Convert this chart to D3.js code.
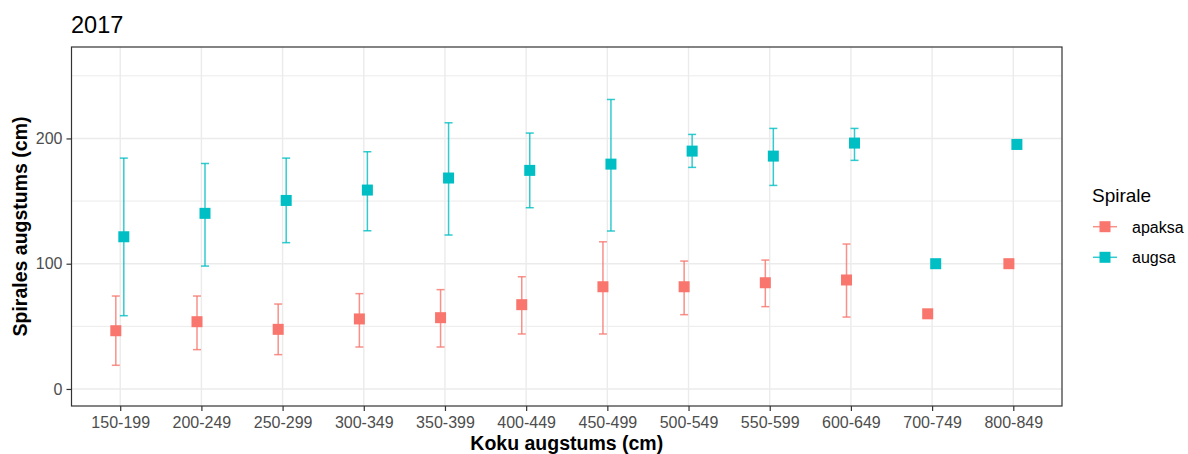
<!DOCTYPE html>
<html>
<head>
<meta charset="utf-8">
<script src="https://cdn.jsdelivr.net/npm/d3@7"></script>
<style>
  html, body { margin: 0; padding: 0; background: #fff; }
  svg { display: block; font-family: "Liberation Sans", Arial, sans-serif; }
</style>
</head>
<body>
<svg id="chart" width="1188" height="454"></svg>
<script>
const categories = ['150-199','200-249','250-299','300-349','350-399','400-449','450-499','500-549','550-599','600-649','700-749','800-849'];
const seriesNames = ['apaksa', 'augsa'];
const apaksaMean = [46.5, 53.7, 47.6, 55.9, 56.9, 67.3, 81.6, 81.6, 84.8, 87.0, 60, 100];
const apaksaLow  = [18.9, 31.4, 27.4, 33.5, 33.5, 43.9, 43.9, 59.3, 65.7, 57.4, null, null];
const apaksaHigh = [74.2, 74.2, 67.8, 76.1, 79.3, 89.6, 117.5, 102.1, 102.9, 115.7, null, null];
const augsaMean  = [121.5, 140.2, 150.5, 158.8, 168.4, 174.5, 179.5, 189.9, 185.9, 196.3, 100, 195.2];
const augsaLow   = [58.5, 98.1, 116.8, 126.3, 122.9, 144.7, 126.1, 176.9, 162.5, 182.5, null, null];
const augsaHigh  = [184.3, 180.0, 184.3, 189.4, 212.5, 204.3, 231.1, 203.2, 208.0, 208.0, null, null];
const yMajorTicks = [0, 100, 200];
const yMinorTicks = [50, 150, 250];
const titleText = '2017';
const xTitle = 'Koku augstums (cm)';
const yTitle = 'Spirales augstums (cm)';
const legendTitle = 'Spirale';

const colors = { apaksa: '#F8766D', augsa: '#00BFC4' };
const dodge = { apaksa: -4.4, augsa: 3.6 };

const panel = { left: 71.5, right: 1062, top: 47, bottom: 406 };
const svg = d3.select('#chart');

const x = d3.scalePoint().domain(categories).range([panel.left, panel.right]).padding(0.6);
const y = d3.scaleLinear().domain([-13.6, 273]).range([panel.bottom, panel.top]);

const series = [
  { name: 'apaksa', mean: apaksaMean, low: apaksaLow, high: apaksaHigh },
  { name: 'augsa', mean: augsaMean, low: augsaLow, high: augsaHigh }
];

// Gridlines
const grid = svg.append('g');
grid.selectAll('line.ymin').data(yMinorTicks).join('line')
  .attr('x1', panel.left).attr('x2', panel.right)
  .attr('y1', d => y(d)).attr('y2', d => y(d))
  .attr('stroke', '#EBEBEB').attr('stroke-width', 1);
grid.selectAll('line.ymaj').data(yMajorTicks).join('line')
  .attr('x1', panel.left).attr('x2', panel.right)
  .attr('y1', d => y(d)).attr('y2', d => y(d))
  .attr('stroke', '#EBEBEB').attr('stroke-width', 1.4);
grid.selectAll('line.xmaj').data(categories).join('line')
  .attr('x1', d => x(d)).attr('x2', d => x(d))
  .attr('y1', panel.top).attr('y2', panel.bottom)
  .attr('stroke', '#EBEBEB').attr('stroke-width', 1.4);

// Error bars and points
series.forEach(s => {
  const g = svg.append('g');
  const rows = categories.map((c, i) => ({ c, m: s.mean[i], lo: s.low[i], hi: s.high[i] }));
  const eb = rows.filter(r => r.lo != null);
  const cx = r => x(r.c) + dodge[s.name];
  g.selectAll('line.v').data(eb).join('line')
    .attr('x1', cx).attr('x2', cx)
    .attr('y1', r => y(r.lo)).attr('y2', r => y(r.hi))
    .attr('stroke', colors[s.name]).attr('stroke-width', 1.5).attr('opacity', 0.8);
  [ 'lo', 'hi' ].forEach(k => {
    g.selectAll('line.c' + k).data(eb).join('line')
      .attr('x1', r => cx(r) - 4).attr('x2', r => cx(r) + 4)
      .attr('y1', r => y(r[k])).attr('y2', r => y(r[k]))
      .attr('stroke', colors[s.name]).attr('stroke-width', 1.5).attr('opacity', 0.8);
  });
  g.selectAll('rect').data(rows).join('rect')
    .attr('x', r => cx(r) - 5.5).attr('y', r => y(r.m) - 5.5)
    .attr('width', 11).attr('height', 11)
    .attr('fill', colors[s.name]);
});

// Panel border
svg.append('rect')
  .attr('x', panel.left).attr('y', panel.top)
  .attr('width', panel.right - panel.left).attr('height', panel.bottom - panel.top)
  .attr('fill', 'none').attr('stroke', '#333333').attr('stroke-width', 1.2);

// Y axis
const yAxis = d3.axisLeft(y).tickValues(yMajorTicks).tickSize(5).tickPadding(4);
const yg = svg.append('g').attr('transform', `translate(${panel.left},0)`).call(yAxis);
yg.select('.domain').remove();
yg.selectAll('line').attr('stroke', '#333333').attr('stroke-width', 1.2);
yg.selectAll('text').attr('fill', '#4D4D4D').style('font-size', '16px')
  .style('font-family', '"Liberation Sans", Arial, sans-serif');

// X axis
const xAxis = d3.axisBottom(x).tickSize(5).tickPadding(6);
const xg = svg.append('g').attr('transform', `translate(0,${panel.bottom})`).call(xAxis);
xg.select('.domain').remove();
xg.selectAll('line').attr('stroke', '#333333').attr('stroke-width', 1.2);
xg.selectAll('text').attr('fill', '#4D4D4D').style('font-size', '16px')
  .style('font-family', '"Liberation Sans", Arial, sans-serif');

// Titles
svg.append('text').attr('x', panel.left - 0.5).attr('y', 33.3)
  .style('font-size', '23.5px').attr('fill', '#000').text(titleText);
svg.append('text').attr('x', (panel.left + panel.right) / 2).attr('y', 450)
  .attr('text-anchor', 'middle').style('font-size', '19.5px').style('font-weight', 'bold')
  .attr('fill', '#000').text(xTitle);
svg.append('text')
  .attr('transform', `translate(27,${(panel.top + panel.bottom) / 2}) rotate(-90)`)
  .attr('text-anchor', 'middle').style('font-size', '19.5px').style('font-weight', 'bold')
  .attr('fill', '#000').text(yTitle);

// Legend
const lg = svg.append('g');
lg.append('text').attr('x', 1092).attr('y', 201.5).style('font-size', '19px')
  .attr('fill', '#000').text(legendTitle);
const keyY = { apaksa: 226.7, augsa: 257.3 };
seriesNames.forEach(n => {
  lg.append('line').attr('x1', 1093).attr('x2', 1117)
    .attr('y1', keyY[n]).attr('y2', keyY[n])
    .attr('stroke', colors[n]).attr('stroke-width', 1.5).attr('opacity', 0.8);
  lg.append('rect').attr('x', 1105 - 5.5).attr('y', keyY[n] - 5.5)
    .attr('width', 11).attr('height', 11).attr('fill', colors[n]);
  lg.append('text').attr('x', 1132).attr('y', keyY[n] + 6).style('font-size', '16px')
    .attr('fill', '#000').text(n);
});
</script>
</body>
</html>
